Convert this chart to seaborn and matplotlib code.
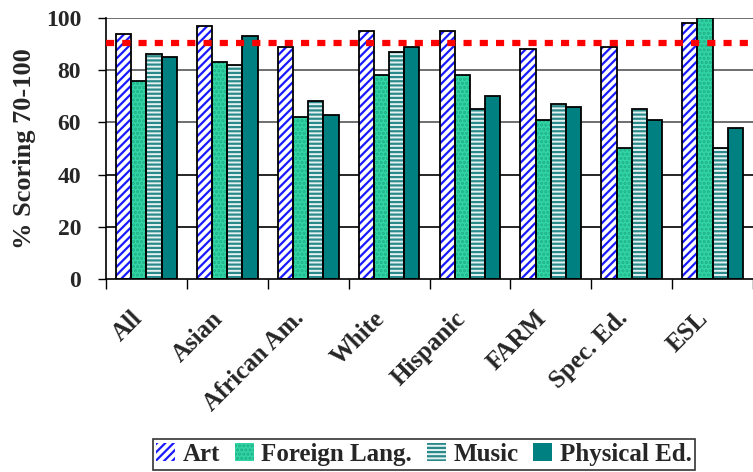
import numpy as np
import pandas as pd
import matplotlib
matplotlib.use("Agg")
import matplotlib.pyplot as plt
from matplotlib.patches import Patch, Rectangle
from matplotlib.ticker import FixedLocator
from matplotlib.transforms import ScaledTranslation
import seaborn as sns

categories = ["All", "Asian", "African Am.", "White", "Hispanic", "FARM", "Spec. Ed.", "ESL"]
art = [94, 97, 89, 95, 95, 88, 89, 98]
foreign_lang = [76, 83, 62, 78, 78, 61, 50, 100]
music = [86, 82, 68, 87, 65, 67, 65, 50]
physical_ed = [85, 93, 63, 89, 70, 66, 61, 58]
series_names = ["Art", "Foreign Lang.", "Music", "Physical Ed."]
target = 90.5

df = pd.DataFrame({
    "Group": categories * 4,
    "Subject": sum([[s] * len(categories) for s in series_names], []),
    "Value": art + foreign_lang + music + physical_ed,
})

sns.set_theme(style="white")
plt.rcParams["font.family"] = ["Liberation Serif", "DejaVu Serif"]
plt.rcParams["font.weight"] = "bold"
plt.rcParams["hatch.linewidth"] = 1.6

fig = plt.figure(figsize=(7.53, 4.72), dpi=100)
ax = fig.add_axes([0.1408, 0.409, 0.8592, 0.553])

face = ["white", "#33D6A6", "#e6f2f2", "#008080"]
hatch = ["////", "....", "----", ""]
hcol = ["#1a1aff", "#1FB088", "#2a8a8a", "#008080"]

sns.barplot(data=df, x="Group", y="Value", hue="Subject", order=categories,
            hue_order=series_names, width=0.75, gap=0, ax=ax, legend=False,
            errorbar=None)

for i, cont in enumerate(ax.containers):
    for p in cont.patches:
        p.set_facecolor(face[i])
        p.set_hatch(hatch[i])
        p.set_edgecolor(hcol[i])
        p.set_linewidth(0)
        bb = p.get_bbox()
        ax.add_patch(Rectangle((bb.x0, bb.y0), bb.width, bb.height, fill=False,
                               edgecolor="black", linewidth=1.3, zorder=3))

ax.set_ylim(0, 100)
ax.set_xlim(-0.5, 7.5)
ax.set_yticks([0, 20, 40, 60, 80, 100])
for y in [20, 40, 60, 80, 100]:
    ax.axhline(y, color="#555555" if y >= 60 else "black", lw=1.2, zorder=0.5)
ax.axhline(target, color="#ff0000", lw=4.5, linestyle=(0, (1.3, 1.3)), zorder=4)

ax.set_ylabel("% Scoring 70-100", fontsize=19, fontweight="bold", labelpad=7)
ax.set_xlabel("")
ax.tick_params(axis="y", labelsize=17, length=6, width=1, direction="out", left=True, color="black", pad=12)
ax.set_xticks(range(len(categories)))
ax.set_xticklabels(categories, rotation=45, ha="right", rotation_mode="anchor",
                   fontsize=18, fontweight="bold")
ax.tick_params(axis="x", which="major", length=0, pad=20)
offset = ScaledTranslation(-16 / 100, 0, fig.dpi_scale_trans)
for lab in ax.get_xticklabels():
    lab.set_transform(lab.get_transform() + offset)
ax.xaxis.set_minor_locator(FixedLocator(np.arange(-0.5, 8, 1)))
ax.tick_params(axis="x", which="minor", length=7, width=1, direction="out", bottom=True, color="black")
for lab in ax.get_yticklabels():
    lab.set_fontweight("bold")

for s in ["top", "right"]:
    ax.spines[s].set_visible(False)
ax.spines["left"].set_color("black")
ax.spines["bottom"].set_color("black")
ax.spines["left"].set_linewidth(1.2)
ax.spines["bottom"].set_linewidth(1.2)

handles = [Patch(facecolor=face[i], hatch=hatch[i], edgecolor=hcol[i], linewidth=0) for i in range(4)]
leg = fig.legend(handles, series_names, loc="center", bbox_to_anchor=(0.563, 0.037), ncol=4,
                 frameon=True, fancybox=False, edgecolor="black", handlelength=0.75,
                 handleheight=0.75, handletextpad=0.3, columnspacing=0.6, borderpad=0.15,
                 prop={"weight": "bold", "size": 18})
leg.get_frame().set_linewidth(1.2)
for t in leg.get_texts():
    t.set_fontweight("bold")

fig.savefig("out.png", dpi=100)
